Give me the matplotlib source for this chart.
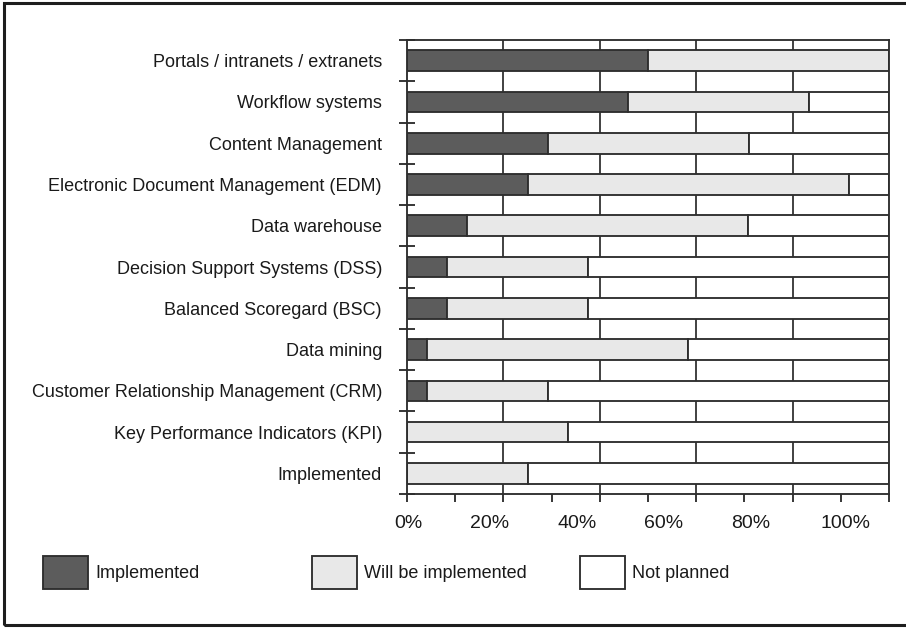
import matplotlib.pyplot as plt
from matplotlib.patches import Rectangle

plt.rcParams["font.family"] = ["Liberation Sans", "DejaVu Sans"]

# %% data (percent of respondents)
categories = [
    "Portals / intranets / extranets",
    "Workflow systems",
    "Content Management",
    "Electronic Document Management (EDM)",
    "Data warehouse",
    "Decision Support Systems (DSS)",
    "Balanced Scoregard (BSC)",
    "Data mining",
    "Customer Relationship Management (CRM)",
    "Key Performance Indicators (KPI)",
    "Implemented",
]
implemented = [50.0, 45.8, 29.2, 25.0, 12.5, 8.3, 8.3, 4.2, 4.2, 0.0, 0.0]
will_be = [50.0, 37.5, 41.7, 66.7, 58.3, 29.2, 29.2, 54.2, 25.0, 33.3, 25.0]
not_planned = [0.0, 16.7, 29.1, 8.3, 29.2, 62.5, 62.5, 41.6, 70.8, 66.7, 75.0]
series = ["Implemented", "Will be implemented", "Not planned"]
colors = ["#5c5c5c", "#e8e8e8", "#ffffff"]
tick_text = ["0%", "20%", "40%", "60%", "80%", "100%"]

# %%
W, H = 906, 628
fig = plt.figure(figsize=(W / 100, H / 100), dpi=100)
ax = fig.add_axes([407 / W, 1 - 494 / H, (889 - 407) / W, (494 - 40) / H])

edge = "#2e2e2e"
lw = 1.35
y = range(len(categories))
left = [0.0] * len(categories)
for vals, col in zip([implemented, will_be, not_planned], colors):
    ax.barh(y, vals, left=left, height=0.5, color=col, edgecolor=edge, linewidth=lw, zorder=2)
    left = [a + b for a, b in zip(left, vals)]

for gx in (20, 40, 60, 80):
    ax.axvline(gx, color="#3a3a3a", linewidth=lw, zorder=1)

ax.set_xlim(0, 100)
ax.set_ylim(len(categories) - 0.5, -0.5)

# y axis: labels at bar centres, tick marks at category boundaries
ax.set_yticks(list(y))
ax.set_yticklabels(categories, fontsize=13, color="#1a1a1a")
ax.tick_params(axis="y", which="major", length=0, pad=18)
ax.set_yticks([i - 0.5 for i in range(len(categories) + 1)], minor=True)
ax.tick_params(axis="y", which="minor", direction="inout", length=12, width=lw, color=edge)

# x axis: ticks every 10, labels placed as in the original print
ax.set_xticks(range(0, 101, 10))
ax.set_xticklabels([])
ax.tick_params(axis="x", which="major", direction="out", length=6, width=lw, color=edge)
ax.set_xticks([0.2, 17.2, 35.3, 53.3, 71.4, 90.9], minor=True)
ax.set_xticklabels(tick_text, minor=True, fontsize=14, color="#1a1a1a")
ax.tick_params(axis="x", which="minor", length=0, pad=15)

for s in ax.spines.values():
    s.set_color(edge)
    s.set_linewidth(lw)

# legend drawn by hand
box_x = [43, 312, 580]
for name, col, bx in zip(series, colors, box_x):
    fig.add_artist(Rectangle((bx / W, 1 - 589 / H), 45 / W, 33 / H, transform=fig.transFigure,
                             facecolor=col, edgecolor=edge, linewidth=lw))
    fig.text((bx + 52) / W, 1 - 573 / H, name, fontsize=13, color="#1a1a1a", va="center")

# outer frame (right side runs off the page)
fig.add_artist(Rectangle((4 / W, 1 - 625 / H), 1.0, 622 / H, transform=fig.transFigure,
                         fill=False, edgecolor="#1e1e1e", linewidth=2.2))

fig.savefig("out.png", dpi=100)
